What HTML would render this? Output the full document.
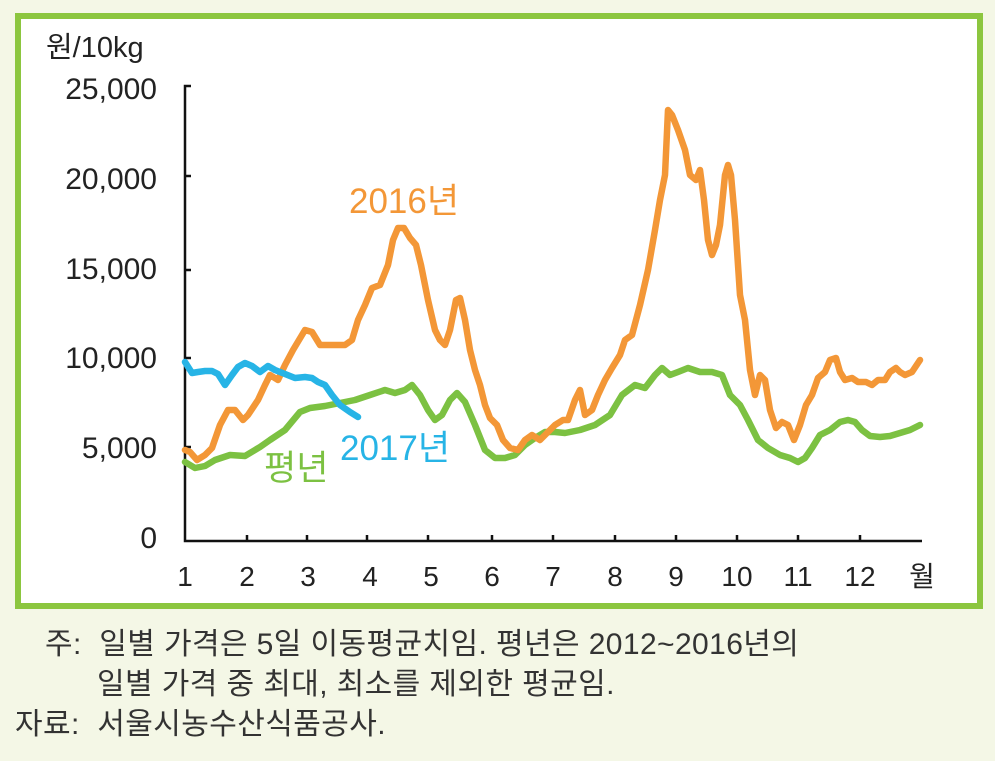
<!DOCTYPE html>
<html><head><meta charset="utf-8"><style>
body{margin:0;width:995px;height:761px;background:#f4f7e6;font-family:"Liberation Sans","Noto Sans CJK KR",sans-serif;position:relative;overflow:hidden}
.box{position:absolute;left:15px;top:13px;width:956px;height:584px;border:6px solid #8cc63f;background:#fff}
.t{position:absolute;color:#333;font-size:30px;white-space:nowrap;letter-spacing:0.4px}
</style></head><body>
<div class="box"></div>
<svg width="995" height="761" style="position:absolute;left:0;top:0" font-family="Liberation Sans, Noto Sans CJK KR, sans-serif">
<g stroke="#111" stroke-width="2.5" fill="none">
<path d="M191,86 H185 V541 H922"/>
<path d="M185,176 h6 M185,270 h6 M185,358 h6 M185,447 h6"/>
<path d="M247,541 v-6 M307,541 v-6 M367,541 v-6 M428,541 v-6 M492,541 v-6 M553,541 v-6 M615,541 v-6 M676,541 v-6 M737,541 v-6 M798,541 v-6 M860,541 v-6"/>
</g>
<g font-size="30" fill="#222" text-anchor="end">
<text x="157" y="99">25,000</text><text x="157" y="189">20,000</text><text x="157" y="279">15,000</text><text x="157" y="368">10,000</text><text x="157" y="458">5,000</text><text x="157" y="548">0</text>
</g>
<text x="46" y="57" font-size="29" fill="#222">원/10kg</text>
<g font-size="28" fill="#222" text-anchor="middle">
<text x="185" y="586">1</text><text x="247" y="586">2</text><text x="308" y="586">3</text><text x="370" y="586">4</text><text x="431" y="586">5</text><text x="492" y="586">6</text><text x="553" y="586">7</text><text x="615" y="586">8</text><text x="676" y="586">9</text><text x="737" y="586">10</text><text x="798" y="586">11</text><text x="860" y="586">12</text><text x="922" y="586">월</text>
</g>
<g fill="none" stroke-width="6.5" stroke-linejoin="round" stroke-linecap="round">
<polyline stroke="#7cc142" points="185,462 195,468 205,466 215,460 230,455 245,456 260,447 270,440 285,430 300,412 310,408 325,406 340,403 355,400 370,395 385,390 395,393 405,390 412,385 420,395 428,410 435,420 442,415 450,400 457,393 465,402 475,425 485,450 495,458 505,458 515,455 525,445 535,438 545,432 555,432 565,433 580,430 595,425 610,415 622,395 635,385 645,388 655,375 662,368 670,375 678,372 688,368 700,372 712,372 722,375 730,395 740,405 748,420 758,440 768,448 780,455 790,458 798,462 805,458 812,448 820,435 830,430 840,422 848,420 855,422 862,430 870,436 880,437 890,436 900,433 910,430 920,425"/>
<polyline stroke="#f39737" points="185,450 190,452 197,460 205,455 212,448 220,425 228,410 235,410 243,420 248,415 258,400 265,385 270,375 278,380 285,365 293,350 305,330 312,332 320,345 330,345 345,345 352,340 358,320 365,305 372,288 380,285 388,265 393,240 398,228 404,228 410,238 416,245 421,265 428,300 435,330 440,340 445,345 450,330 456,300 460,298 465,320 470,350 475,370 480,385 485,405 490,418 497,425 503,440 510,448 518,450 525,440 532,435 540,440 548,432 555,425 563,420 568,420 575,400 580,390 585,415 592,410 598,395 605,380 612,368 620,355 625,340 632,335 640,305 648,270 655,230 660,200 665,175 668,110 672,115 678,130 685,150 690,175 696,180 700,170 704,200 708,240 712,255 716,245 720,225 725,175 728,165 731,175 735,220 740,295 745,320 750,370 755,395 760,375 765,380 770,410 776,428 782,422 788,425 794,440 800,425 806,405 812,395 818,378 825,372 830,360 836,358 840,372 845,380 852,378 858,382 866,382 872,385 878,380 885,380 890,372 896,368 900,372 905,375 912,372 920,360"/>
<polyline stroke="#27b4e6" points="185,362 192,373 198,372 205,371 212,371 218,374 225,385 232,375 238,367 245,363 252,366 260,372 268,366 275,370 285,374 295,378 305,377 312,378 318,382 325,385 332,395 340,405 350,412 358,417"/>
</g>
<text x="349" y="213" font-size="35" fill="#f39737">2016년</text>
<text x="340" y="460" font-size="35" fill="#27b4e6">2017년</text>
<text x="264" y="480" font-size="35" fill="#7cc142">평년</text>
</svg>
<div class="t" style="left:45px;top:619px">주:&nbsp; 일별 가격은 5일 이동평균치임. 평년은 2012~2016년의</div>
<div class="t" style="left:97px;top:659px">일별 가격 중 최대, 최소를 제외한 평균임.</div>
<div class="t" style="left:15px;top:699px">자료:&nbsp; 서울시농수산식품공사.</div>
</body></html>
